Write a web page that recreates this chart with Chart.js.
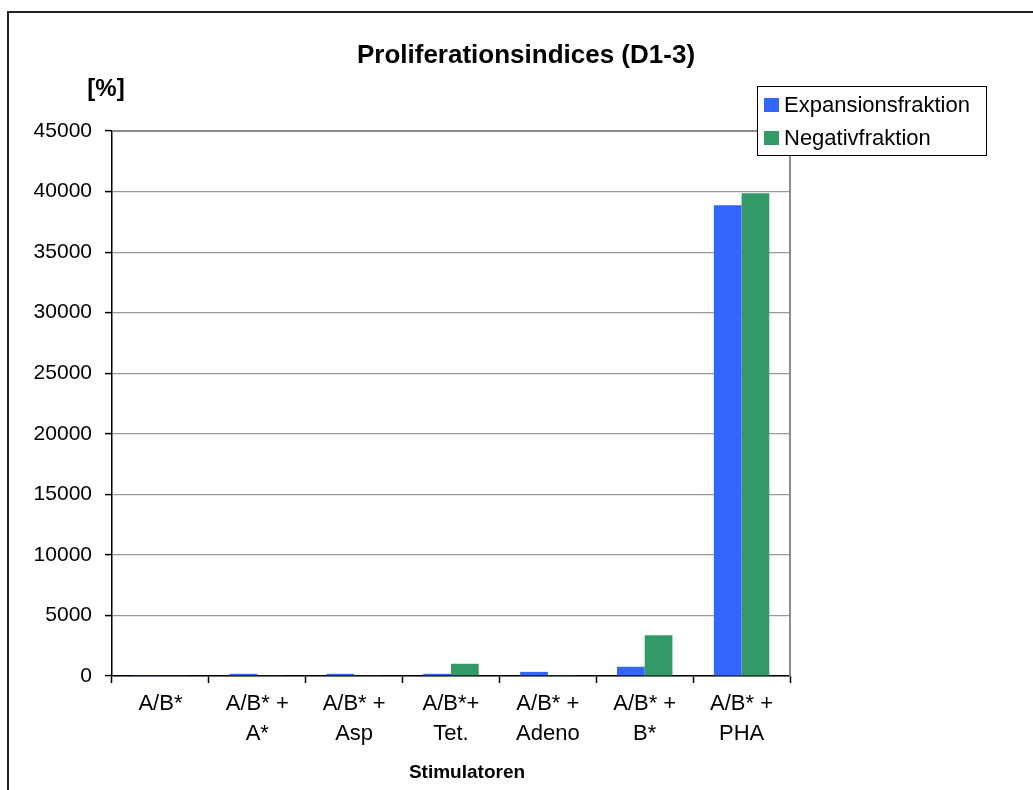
<!DOCTYPE html>
<html>
<head>
<meta charset="utf-8">
<script src="https://cdn.jsdelivr.net/npm/chart.js@4.4.1/dist/chart.umd.min.js"></script>
<style>
  html, body { margin: 0; padding: 0; background: #fff; }
  #wrap { width: 1033px; height: 790px; position: relative; }
</style>
</head>
<body>
<div id="wrap"><canvas id="c" width="1033" height="790"></canvas></div>
<script>
const categories = [
  ["A/B*"],
  ["A/B* +", "A*"],
  ["A/B* +", "Asp"],
  ["A/B*+", "Tet."],
  ["A/B* +", "Adeno"],
  ["A/B* +", "B*"],
  ["A/B* +", "PHA"]
];
const expansionsfraktion = [70, 180, 180, 180, 340, 760, 38870];
const negativfraktion = [60, 60, 60, 1010, 70, 3370, 39860];
const seriesNames = ["Expansionsfraktion", "Negativfraktion"];
const seriesColors = ["#3366FF", "#339966"];
const chartTitle = "Proliferationsindices (D1-3)";
const yTitle = "[%]";
const xTitle = "Stimulatoren";

const FONT = "'Liberation Sans', Arial, sans-serif";

const decor = {
  id: 'decor',
  beforeDraw(chart) {
    const ctx = chart.ctx;
    ctx.save();
    ctx.fillStyle = '#fff';
    ctx.fillRect(0, 0, chart.width, chart.height);
    ctx.strokeStyle = '#222';
    ctx.lineWidth = 2;
    ctx.beginPath();
    ctx.moveTo(8, 800);
    ctx.lineTo(8, 12);
    ctx.lineTo(1040, 12);
    ctx.stroke();
    ctx.restore();
  },
  beforeDatasetsDraw(chart) {
    const ctx = chart.ctx, a = chart.chartArea;
    ctx.save();
    ctx.strokeStyle = '#8c8c8c';
    ctx.lineWidth = 2;
    ctx.beginPath();
    ctx.moveTo(a.left, a.top);
    ctx.lineTo(a.right, a.top);
    ctx.lineTo(a.right, a.bottom);
    ctx.stroke();
    ctx.restore();
  },
  afterDraw(chart) {
    const ctx = chart.ctx;
    ctx.save();
    ctx.fillStyle = '#000';
    ctx.textAlign = 'center';
    ctx.textBaseline = 'middle';
    ctx.font = "bold 26px " + FONT;
    ctx.fillText(chartTitle, 526, 56);
    ctx.font = "bold 24px " + FONT;
    ctx.fillText(yTitle, 106, 89);
    ctx.font = "bold 19px " + FONT;
    ctx.fillText(xTitle, 467, 773);

    // legend
    ctx.fillStyle = '#fff';
    ctx.fillRect(757, 86, 229, 69);
    ctx.strokeStyle = '#000';
    ctx.lineWidth = 1;
    ctx.strokeRect(757.5, 86.5, 229, 69);
    const rows = [105, 138];
    ctx.font = "22px " + FONT;
    ctx.textAlign = 'left';
    for (let i = 0; i < seriesNames.length; i++) {
      ctx.fillStyle = seriesColors[i];
      ctx.fillRect(764, rows[i] - 7, 15, 14);
      ctx.fillStyle = '#000';
      ctx.fillText(seriesNames[i], 784, rows[i] + 1);
    }
    ctx.restore();
  }
};

new Chart(document.getElementById('c'), {
  type: 'bar',
  data: {
    labels: categories,
    datasets: [
      { label: seriesNames[0], data: expansionsfraktion, backgroundColor: seriesColors[0], borderWidth: 0 },
      { label: seriesNames[1], data: negativfraktion, backgroundColor: seriesColors[1], borderWidth: 0 }
    ]
  },
  options: {
    responsive: false,
    animation: false,
    devicePixelRatio: 1,
    layout: { padding: { top: 131, right: 243, left: 0, bottom: 0 } },
    datasets: { bar: { barPercentage: 1, categoryPercentage: 0.572 } },
    plugins: { legend: { display: false }, title: { display: false }, tooltip: { enabled: false } },
    scales: {
      x: {
        grid: { offset: true, drawOnChartArea: false, drawTicks: true, tickLength: 7, tickColor: '#000', tickWidth: 1.5 },
        border: { color: '#000', width: 1.5 },
        ticks: { color: '#000', font: { family: FONT, size: 22, lineHeight: 1.36 }, padding: 6, maxRotation: 0, autoSkip: false },
        afterFit(s) { s.height = 114; }
      },
      y: {
        min: 0, max: 45000,
        ticks: { stepSize: 5000, color: '#000', font: { family: FONT, size: 21 }, padding: 13, callback: v => String(v) },
        grid: { color: '#999', lineWidth: 1.2, tickLength: 7, tickColor: '#000', tickWidth: 1.5 },
        border: { color: '#000', width: 1.5 },
        afterFit(s) { s.width = 112; }
      }
    }
  },
  plugins: [decor]
});
</script>
</body>
</html>
